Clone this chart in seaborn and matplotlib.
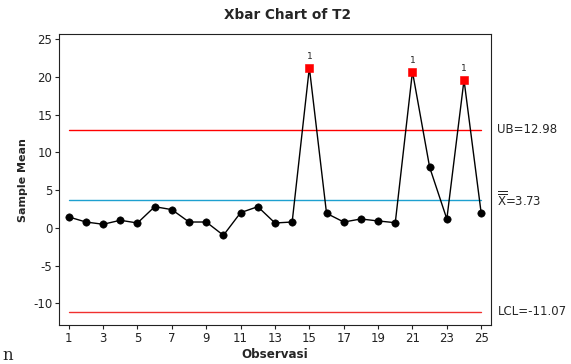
import matplotlib
matplotlib.use("Agg")
import matplotlib.pyplot as plt
import seaborn as sns
import pandas as pd
import numpy as np

sns.set_style("ticks")
plt.rcParams['font.family'] = ['DejaVu Sans']
plt.rcParams['axes.unicode_minus'] = False

samples = list(range(1, 26))
means = [1.46, 0.79, 0.49, 1.02, 0.66, 2.82, 2.43, 0.79, 0.79, -0.97,
         2.03, 2.82, 0.66, 0.79, 21.23, 1.94, 0.79, 1.19, 0.93, 0.70,
         20.7, 8.04, 1.19, 19.6, 1.94]
out_of_control = [15, 21, 24]
ucl = 12.98
center = 3.73
lcl = -11.07
xticks = list(range(1, 26, 2))
yticks = [-10, -5, 0, 5, 10, 15, 20, 25]

df = pd.DataFrame({"Observasi": samples, "Mean": means})
df["flag"] = df["Observasi"].isin(out_of_control)

fig = plt.figure(figsize=(5.71, 3.64), dpi=100)
ax = fig.add_axes([59.3/571, 1 - 325/364, (491-59.3)/571, (325-34.3)/364])

ax.plot([samples[0], samples[-1]], [ucl, ucl], color="#ff0000", lw=1)
ax.plot([samples[0], samples[-1]], [lcl, lcl], color="#f0302f", lw=1)
ax.plot([samples[0], samples[-1]], [center, center], color="#1ea0d0", lw=1)

sns.lineplot(data=df, x="Observasi", y="Mean", color="black", lw=1, ax=ax, zorder=3)
normal = df[~df["flag"]]
flagged = df[df["flag"]]
sns.scatterplot(data=normal, x="Observasi", y="Mean", color="black", s=28,
                marker="o", edgecolor="black", ax=ax, zorder=4)
sns.scatterplot(data=flagged, x="Observasi", y="Mean", color="#ff0000", s=28,
                marker="s", edgecolor="#ff0000", ax=ax, zorder=4)
for _, r in flagged.iterrows():
    ax.annotate("1", (r["Observasi"], r["Mean"]), xytext=(0, 5), textcoords="offset points",
                ha="center", va="bottom", fontsize=6.5)

ax.set_xlim(0.45, 25.57)
ax.set_ylim(-12.85, 25.65)
ax.set_xticks(xticks)
ax.set_yticks(yticks)
ax.tick_params(labelsize=8.5, length=3, width=0.8, pad=2, colors="#222222")
for s in ax.spines.values():
    s.set_visible(True)
    s.set_linewidth(0.8)
    s.set_color("#222222")

ax.set_xlabel("Observasi", fontsize=8.6, fontweight="bold", labelpad=2)
ax.set_ylabel("Sample Mean", fontsize=8, fontweight="bold", labelpad=4)
fig.text(288/571, 1 - 15/364, "Xbar Chart of T2", fontsize=9.8, fontweight="bold",
         ha="center", va="center")

ax.text(1.015, ucl, "UB=12.98", transform=ax.get_yaxis_transform(), va="center", ha="left", fontsize=8.5)
ax.text(1.015, center, r"$\overline{\overline{\mathregular{X}}}$=3.73", transform=ax.get_yaxis_transform(),
        va="center", ha="left", fontsize=8.5)
ax.text(1.015, lcl, "LCL=-11.07", transform=ax.get_yaxis_transform(), va="center", ha="left", fontsize=8.5)

fig.text(2/571, 1 - 356/364, "n", family="DejaVu Serif", fontsize=12, va="center", ha="left")

fig.savefig("out.png", dpi=100)
